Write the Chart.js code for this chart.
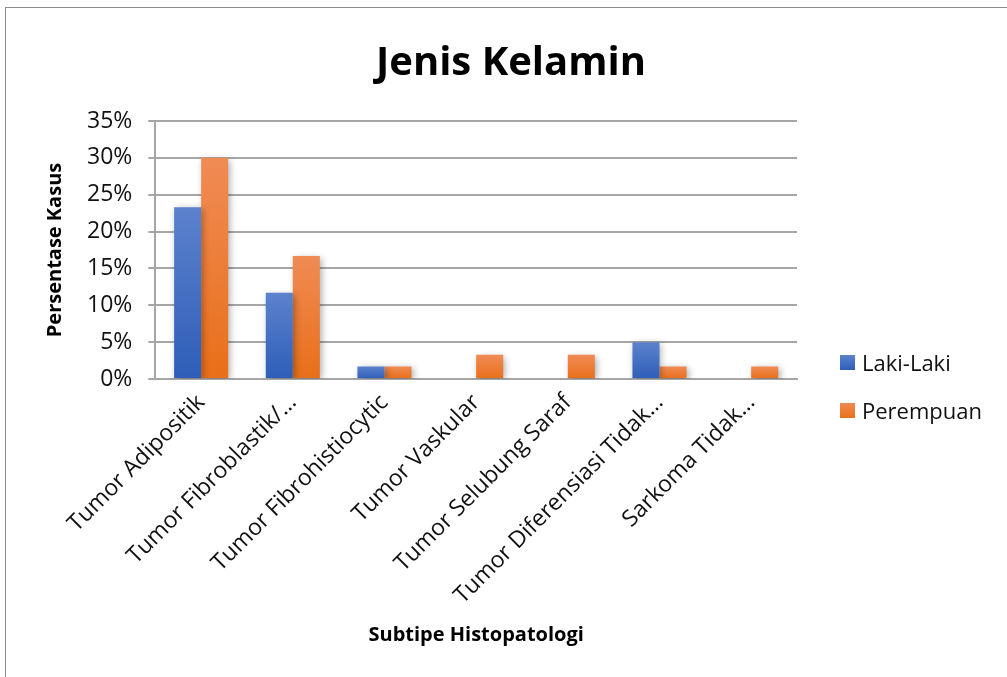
<!DOCTYPE html>
<html>
<head>
<meta charset="utf-8">
<script src="https://cdn.jsdelivr.net/npm/chart.js@4.4.1/dist/chart.umd.min.js"></script>
<style>
  html, body { margin: 0; padding: 0; background: #fff; overflow: hidden; }
  #wrap { position: relative; width: 1007px; height: 677px; }
  #frame { position: absolute; left: 5px; top: 7px; width: 1100px; height: 800px;
           border-top: 1px solid #8c8c8c; border-left: 1px solid #8c8c8c; pointer-events: none; }
  #title { position: absolute; left: 0; width: 1022px; top: 33px; text-align: center;
           font-family: "Open Sans", sans-serif; font-weight: bold; font-size: 40px; line-height: 54px; color: #000; }
  #legend { position: absolute; left: 840px; top: 348px; font-family: "Open Sans", sans-serif; font-size: 22px; color: #111; }
  #legend div { display: flex; align-items: center; height: 28px; margin-bottom: 20px; }
  #legend span.box { display: inline-block; width: 15px; height: 15px; margin-right: 7px; }
</style>
</head>
<body>
<div id="wrap">
  <canvas id="chart" width="1007" height="677"></canvas>
  <div id="frame"></div>
  <div id="title">Jenis Kelamin</div>
  <div id="legend"></div>
</div>
<script>
// data
const categories = [
  'Tumor Adipositik',
  'Tumor Fibroblastik/…',
  'Tumor Fibrohistiocytic',
  'Tumor Vaskular',
  'Tumor Selubung Saraf',
  'Tumor Diferensiasi Tidak…',
  'Sarkoma Tidak…'
];
const lakiLaki  = [23.3, 11.7, 1.7, 0, 0, 5.0, 0];
const perempuan = [30.0, 16.7, 1.7, 3.3, 3.3, 1.7, 1.7];
const yTicks = [0, 5, 10, 15, 20, 25, 30, 35];

const palette = [
  { top: '#5c82cd', bottom: '#2e5eb8' },  // Laki-Laki
  { top: '#f08b55', bottom: '#e86f18' }   // Perempuan
];
const fontFamily = '"Open Sans", sans-serif';
const xAxisHeight = 273; // label miring + judul sumbu (melebihi batas default Chart.js)

// gradien dari atas ke bawah tiap batang
function barGradient(context) {
  const chart = context.chart;
  const y = chart.scales.y;
  const c = palette[context.datasetIndex];
  if (!y || context.raw == null) return c.bottom;
  const top = y.getPixelForValue(context.raw);
  const base = y.getPixelForValue(0);
  if (!isFinite(top) || base - top < 1) return c.bottom;
  const g = chart.ctx.createLinearGradient(0, top, 0, base);
  g.addColorStop(0, c.top);
  g.addColorStop(1, c.bottom);
  return g;
}

// bayangan tipis di belakang batang
const barShadow = {
  id: 'barShadow',
  beforeDatasetsDraw(chart) {
    const ctx = chart.ctx;
    ctx.save();
    ctx.shadowColor = 'rgba(0,0,0,0.35)';
    ctx.shadowBlur = 7;
    ctx.shadowOffsetX = 2;
    ctx.shadowOffsetY = 2;
  },
  afterDatasetsDraw(chart) {
    chart.ctx.restore();
  }
};

const chart = new Chart(document.getElementById('chart'), {
  type: 'bar',
  data: {
    labels: categories,
    datasets: [
      { label: 'Laki-Laki', data: lakiLaki, backgroundColor: barGradient,
        categoryPercentage: 0.59, barPercentage: 1.0 },
      { label: 'Perempuan', data: perempuan, backgroundColor: barGradient,
        categoryPercentage: 0.59, barPercentage: 1.0 }
    ]
  },
  options: {
    responsive: false,
    animation: false,
    layout: { padding: { top: 121, left: 39, right: 210, bottom: 25 } },
    plugins: {
      legend: { display: false },
      tooltip: { enabled: false }
    },
    scales: {
      x: {
        afterFit: axis => { axis.height = xAxisHeight; },
        grid: { display: false },
        border: { display: true, color: '#a6a6a6', width: 2 },
        ticks: {
          color: '#111',
          font: { family: fontFamily, size: 23 },
          maxRotation: 45, minRotation: 45, autoSkip: false, padding: 2
        },
        title: {
          display: true,
          text: 'Subtipe Histopatologi',
          color: '#000',
          font: { family: fontFamily, size: 20, weight: 'bold' },
          padding: { top: 10, bottom: 5 }
        }
      },
      y: {
        min: 0, max: 35,
        afterBuildTicks: axis => { axis.ticks = yTicks.map(v => ({ value: v })); },
        grid: { color: '#a6a6a6', lineWidth: 2, tickLength: 7 },
        border: { display: true, color: '#a6a6a6', width: 2 },
        ticks: {
          color: '#111',
          font: { family: fontFamily, size: 23 },
          padding: 16,
          callback: v => v + '%'
        },
        title: {
          display: true,
          text: 'Persentase Kasus',
          color: '#000',
          font: { family: fontFamily, size: 20, weight: 'bold' },
          padding: { bottom: 4 }
        }
      }
    }
  },
  plugins: [barShadow]
});

// legenda HTML di sisi kanan
const legendEl = document.getElementById('legend');
chart.data.datasets.forEach((ds, i) => {
  const row = document.createElement('div');
  row.innerHTML = `<span class="box" style="background:linear-gradient(${palette[i].top}, ${palette[i].bottom})"></span>${ds.label}`;
  legendEl.appendChild(row);
});
</script>
</body>
</html>
